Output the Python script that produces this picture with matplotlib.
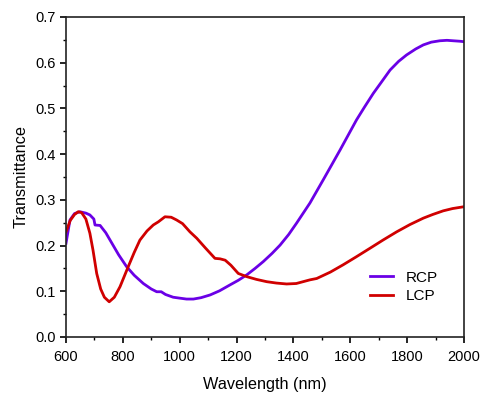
import matplotlib
matplotlib.use("Agg")
import matplotlib.pyplot as plt
from matplotlib.ticker import MultipleLocator

plt.rcParams['font.family'] = ['Liberation Sans', 'DejaVu Sans']

rcp_wl = [600, 614, 630, 649, 670, 684, 698, 702, 720, 740, 755, 785, 813, 840, 872, 900,
          919, 935, 950, 977, 1000, 1024, 1048, 1075, 1107, 1140, 1177, 1206, 1236, 1265,
          1294, 1325, 1353, 1383, 1411, 1458, 1505, 1535, 1564, 1593, 1622, 1650, 1681,
          1710, 1740, 1770, 1798, 1830, 1857, 1885, 1915, 1940, 1962, 1985, 2000]
rcp_t = [0.205, 0.256, 0.270, 0.274, 0.271, 0.267, 0.258, 0.245, 0.244, 0.228, 0.212, 0.180,
         0.154, 0.135, 0.117, 0.105, 0.099, 0.099, 0.093, 0.087, 0.085, 0.083, 0.083, 0.086,
         0.092, 0.101, 0.114, 0.124, 0.136, 0.150, 0.165, 0.183, 0.201, 0.224, 0.249, 0.293,
         0.344, 0.377, 0.409, 0.442, 0.475, 0.503, 0.533, 0.558, 0.584, 0.603, 0.617, 0.630,
         0.639, 0.645, 0.648, 0.649, 0.648, 0.647, 0.646]

lcp_wl = [600, 615, 630, 643, 655, 670, 684, 695, 708, 722, 735, 752, 770, 790, 819, 840,
          860, 885, 907, 925, 948, 970, 989, 1010, 1036, 1060, 1090, 1124, 1142, 1160, 1180,
          1206, 1236, 1270, 1306, 1340, 1376, 1410, 1458, 1482, 1530, 1575, 1620, 1669,
          1715, 1763, 1810, 1857, 1890, 1927, 1960, 2000]
lcp_t = [0.230, 0.255, 0.268, 0.274, 0.272, 0.258, 0.227, 0.190, 0.139, 0.105, 0.087, 0.077,
         0.087, 0.110, 0.154, 0.185, 0.212, 0.232, 0.245, 0.252, 0.263, 0.262, 0.256, 0.248,
         0.230, 0.216, 0.195, 0.172, 0.171, 0.168, 0.157, 0.139, 0.132, 0.126, 0.121, 0.118,
         0.116, 0.117, 0.125, 0.128, 0.142, 0.158, 0.175, 0.194, 0.212, 0.230, 0.246, 0.260,
         0.268, 0.276, 0.281, 0.285]

fig = plt.figure(figsize=(4.82, 3.94), dpi=100)
ax = fig.add_axes([66/482, 57/394, 398/482, 320/394])

ax.plot(rcp_wl, rcp_t, color='#6A00E6', lw=2.0, label='RCP', solid_joinstyle='round')
ax.plot(lcp_wl, lcp_t, color='#D00000', lw=2.0, label='LCP', solid_joinstyle='round')

ax.set_xlim(600, 2000)
ax.set_ylim(0, 0.7)
ax.xaxis.set_major_locator(MultipleLocator(200))
ax.xaxis.set_minor_locator(MultipleLocator(100))
ax.yaxis.set_major_locator(MultipleLocator(0.1))
ax.yaxis.set_minor_locator(MultipleLocator(0.05))
ax.yaxis.set_major_formatter(matplotlib.ticker.FormatStrFormatter('%.1f'))

for s in ax.spines.values():
    s.set_linewidth(1.2)
    s.set_color('#222222')
ax.tick_params(which='major', direction='out', length=4, width=1.2, labelsize=10.5,
               top=False, right=False)
ax.tick_params(axis='x', which='major', pad=5.5)
ax.tick_params(axis='y', which='major', pad=3.5)
ax.tick_params(which='minor', direction='out', length=2.5, width=1.0, top=False, right=False)

ax.set_xlabel('Wavelength (nm)', fontsize=11.7, labelpad=9)
ax.set_ylabel('Transmittance', fontsize=11.7, labelpad=5)

ax.legend(loc='center left', bbox_to_anchor=(0.765, 0.156), frameon=False, fontsize=11,
          borderpad=0, borderaxespad=0, handlelength=1.5, handletextpad=0.8, labelspacing=0.3)

fig.savefig('out.png', dpi=100)
